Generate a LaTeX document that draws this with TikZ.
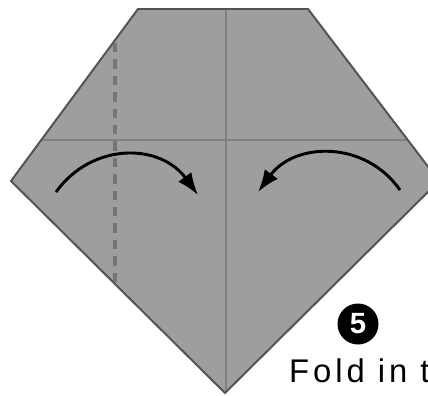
\documentclass[tikz,border=0pt]{standalone}
\usepackage{xcolor}
\usepackage{fontspec}
\setmainfont{Liberation Sans}
\usetikzlibrary{arrows.meta}

\definecolor{paperfill}{gray}{0.62}
\definecolor{paperedge}{gray}{0.33}
\definecolor{creaseline}{gray}{0.50}

\begin{document}
\begin{tikzpicture}[x=0.03cm,y=-0.03cm,
    crease/.style={creaseline,line width=2.2pt},
    valley/.style={creaseline!92!black,line width=3pt,dash pattern=on 8pt off 6pt},
    foldarrow/.style={line width=2.5pt,-{Latex[length=19pt,width=14pt]}},
    stepdot/.style={circle,fill=black,text=white,inner sep=0pt,minimum size=35pt,
      font=\bfseries\fontsize{25}{25}\selectfont}]
  \useasboundingbox (0,0) rectangle (428,395);
  \clip (0,0) rectangle (428,395);
  % the folded paper
  \fill[paperfill] (138,9) -- (308,9) -- (439,181) -- (225,393) -- (11,181) -- cycle;
  \begin{scope}
    \clip (138,9) -- (308,9) -- (439,181) -- (225,393) -- (11,181) -- cycle;
    \draw[crease] (0,140) -- (428,140);
    \draw[crease] (226,0) -- (226,395);
    \draw[valley] (115,43) -- (115,395);
  \end{scope}
  \draw[paperedge,line width=1.7pt] (138,9) -- (308,9) -- (439,181) -- (225,393) -- (11,181) -- cycle;
  % fold arrows
  \coordinate (lfrom) at (56,192);
  \coordinate (lto) at (198,195);
  \coordinate (rfrom) at (400,190);
  \coordinate (rto) at (258,192);
  \draw[foldarrow] (lfrom) .. controls (92,142) and (160,143) .. (lto);
  \draw[foldarrow] (rfrom) .. controls (365,140) and (295,142) .. (rto);
  % step number and caption
  \node[stepdot] (step) at (358,324) {5};
  \node[anchor=base west,inner sep=0pt,
    font=\addfontfeatures{LetterSpace=12}\fontsize{28}{28}\selectfont] (caption)
    at (289,382) {Fold in t};
\end{tikzpicture}
\end{document}
